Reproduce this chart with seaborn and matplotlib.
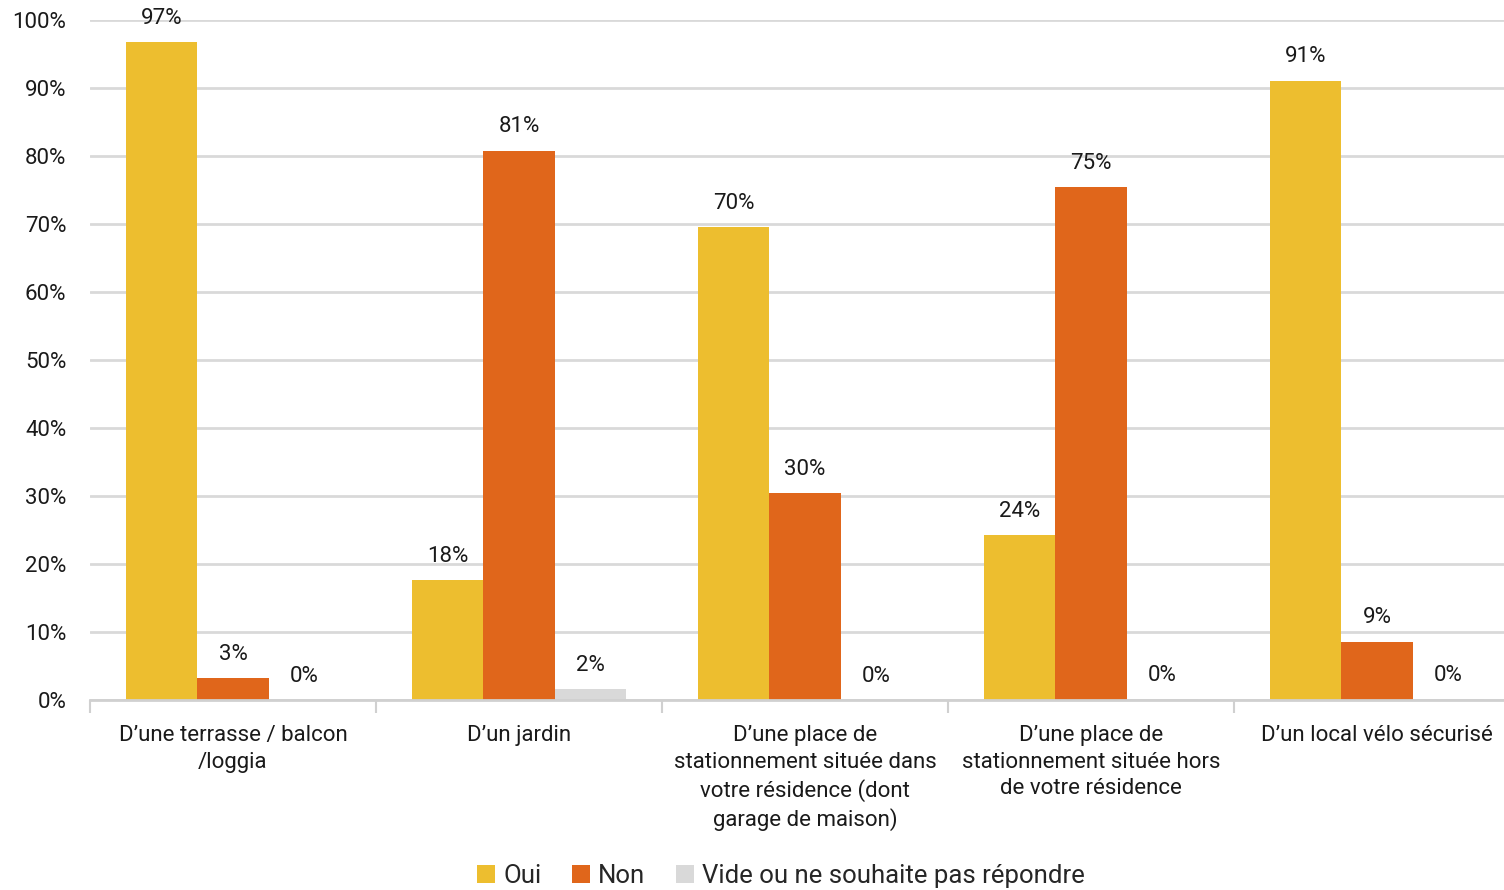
import matplotlib
matplotlib.use("Agg")
import matplotlib.pyplot as plt
import seaborn as sns
import pandas as pd
from matplotlib.patches import Patch

categories = [
    "D’une terrasse / balcon\n/loggia",
    "D’un jardin",
    "D’une place de\nstationnement située dans\nvotre résidence (dont\ngarage de maison)",
    "D’une place de\nstationnement située hors\nde votre résidence",
    "D’un local vélo sécurisé",
]
series = ["Oui", "Non", "Vide ou ne souhaite pas répondre"]
oui = [96.7, 17.6, 69.6, 24.2, 91.1]
non = [3.2, 80.8, 30.4, 75.4, 8.6]
vide = [0.0, 1.6, 0.0, 0.2, 0.2]
colors = ["#EDBE2F", "#E0661B", "#D9D9D9"]
yticks = list(range(0, 101, 10))

rows = []
for name, vals in zip(series, [oui, non, vide]):
    for cat, v in zip(categories, vals):
        rows.append({"cat": cat, "val": v, "serie": name})
df = pd.DataFrame(rows)

sns.set_style("white")
plt.rcParams["font.family"] = ["Roboto", "DejaVu Sans"]

fig = plt.figure(figsize=(15.04, 8.9), dpi=100)
ax = fig.add_axes([90 / 1504, 190 / 890, 1430 / 1504, 680 / 890])

sns.barplot(data=df, x="cat", y="val", hue="serie", hue_order=series,
            palette=colors, width=0.75, gap=0, saturation=1, linewidth=0,
            legend=False, ax=ax)

# etiquetas de valor sobre cada barra
for cont in ax.containers:
    for bar in cont:
        h = bar.get_height()
        ax.annotate(f"{round(h):.0f}%", (bar.get_x() + bar.get_width() / 2, h),
                    xytext=(0, 17), textcoords="offset points",
                    ha="center", va="center", fontsize=16, color="#1a1a1a")

ax.set_ylim(0, 100)
ax.set_xlim(-0.5, len(categories) - 0.5)
ax.set_yticks(yticks)
ax.set_yticklabels([f"{t}%" for t in yticks], fontsize=16, color="#1a1a1a")
ax.yaxis.grid(True, color="#D9D9D9", linewidth=2)
ax.set_axisbelow(True)
ax.tick_params(axis="y", length=0, pad=17)

ax.set_xticks(range(len(categories)))
ax.set_xticklabels(categories, fontsize=16, color="#1a1a1a", linespacing=1.35)
ax.set_xticks([i - 0.5 for i in range(len(categories) + 1)], minor=True)
ax.tick_params(axis="x", which="major", bottom=False, length=0, pad=18)
ax.tick_params(axis="x", which="minor", bottom=True, length=9, width=1.5,
               color="#D0D0D0", direction="out")

for s in ["top", "right", "left"]:
    ax.spines[s].set_visible(False)
ax.spines["bottom"].set_color("#D0D0D0")
ax.spines["bottom"].set_linewidth(2)
ax.set_xlabel("")
ax.set_ylabel("")

handles = [Patch(facecolor=c, edgecolor="none") for c in colors]
fig.legend(handles, series, loc="center", bbox_to_anchor=(781 / 1504, 14 / 890),
           ncol=3, frameon=False, fontsize=18.5, handlelength=0.7, handleheight=0.7,
           handletextpad=0.3, columnspacing=1.2)

fig.savefig("out.png", dpi=100)
